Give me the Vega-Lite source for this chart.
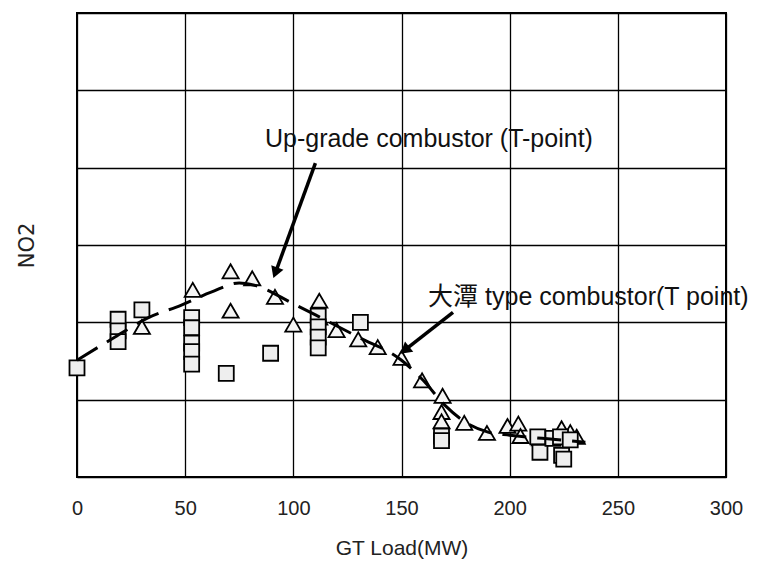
{
  "$schema": "https://vega.github.io/schema/vega-lite/v6.json",
  "width": 649,
  "height": 464,
  "autosize": {"type": "none"},
  "padding": {"left": 77, "top": 13, "right": 31, "bottom": 88},
  "background": "white",
  "config": {
    "view": {"stroke": "#000", "strokeWidth": 2},
    "font": "Liberation Sans"
  },
  "datasets": {
    "points": [
      {"load": 0, "no2": 1.41, "type": "Square"},
      {"load": 19, "no2": 2.04, "type": "Square"},
      {"load": 19, "no2": 1.89, "type": "Square"},
      {"load": 19, "no2": 1.75, "type": "Square"},
      {"load": 30, "no2": 2.16, "type": "Square"},
      {"load": 53, "no2": 2.06, "type": "Square"},
      {"load": 53, "no2": 1.93, "type": "Square"},
      {"load": 53, "no2": 1.73, "type": "Square"},
      {"load": 53, "no2": 1.62, "type": "Square"},
      {"load": 53, "no2": 1.46, "type": "Square"},
      {"load": 69, "no2": 1.34, "type": "Square"},
      {"load": 89.5, "no2": 1.6, "type": "Square"},
      {"load": 111.5, "no2": 2.08, "type": "Square"},
      {"load": 111.5, "no2": 1.94, "type": "Square"},
      {"load": 111.5, "no2": 1.81, "type": "Square"},
      {"load": 111.5, "no2": 1.67, "type": "Square"},
      {"load": 131, "no2": 2.0, "type": "Square"},
      {"load": 168.5, "no2": 0.53, "type": "Square"},
      {"load": 168.5, "no2": 0.47, "type": "Square"},
      {"load": 213, "no2": 0.52, "type": "Square"},
      {"load": 214, "no2": 0.32, "type": "Square"},
      {"load": 220, "no2": 0.5, "type": "Square"},
      {"load": 223.5, "no2": 0.52, "type": "Square"},
      {"load": 224, "no2": 0.28, "type": "Square"},
      {"load": 225, "no2": 0.23, "type": "Square"},
      {"load": 228, "no2": 0.48, "type": "Square"},
      {"load": 30, "no2": 1.94, "type": "Triangle"},
      {"load": 53.5, "no2": 2.42, "type": "Triangle"},
      {"load": 71, "no2": 2.66, "type": "Triangle"},
      {"load": 81, "no2": 2.57, "type": "Triangle"},
      {"load": 91.5, "no2": 2.33, "type": "Triangle"},
      {"load": 71, "no2": 2.15, "type": "Triangle"},
      {"load": 100, "no2": 1.97, "type": "Triangle"},
      {"load": 112, "no2": 2.28, "type": "Triangle"},
      {"load": 112, "no2": 2.06, "type": "Triangle"},
      {"load": 120, "no2": 1.9, "type": "Triangle"},
      {"load": 130, "no2": 1.78, "type": "Triangle"},
      {"load": 139, "no2": 1.68, "type": "Triangle"},
      {"load": 150, "no2": 1.54, "type": "Triangle"},
      {"load": 159.5, "no2": 1.25, "type": "Triangle"},
      {"load": 169, "no2": 1.05, "type": "Triangle"},
      {"load": 168.5, "no2": 0.84, "type": "Triangle"},
      {"load": 168.5, "no2": 0.72, "type": "Triangle"},
      {"load": 179, "no2": 0.7, "type": "Triangle"},
      {"load": 189.5, "no2": 0.57, "type": "Triangle"},
      {"load": 199, "no2": 0.66, "type": "Triangle"},
      {"load": 204, "no2": 0.69, "type": "Triangle"},
      {"load": 205, "no2": 0.53, "type": "Triangle"},
      {"load": 214, "no2": 0.5, "type": "Triangle"},
      {"load": 224, "no2": 0.63, "type": "Triangle"},
      {"load": 228, "no2": 0.58, "type": "Triangle"},
      {"load": 231, "no2": 0.52, "type": "Triangle"}
    ],
    "trend": [
      {"load": 0, "no2": 1.51},
      {"load": 17.6, "no2": 1.81},
      {"load": 33, "no2": 2.06},
      {"load": 48, "no2": 2.22},
      {"load": 62, "no2": 2.39},
      {"load": 75, "no2": 2.51},
      {"load": 82, "no2": 2.48},
      {"load": 100, "no2": 2.24},
      {"load": 112, "no2": 2.07},
      {"load": 130, "no2": 1.81},
      {"load": 150, "no2": 1.51},
      {"load": 160, "no2": 1.25},
      {"load": 170, "no2": 0.93},
      {"load": 180, "no2": 0.7},
      {"load": 190, "no2": 0.58},
      {"load": 200, "no2": 0.54},
      {"load": 215, "no2": 0.5},
      {"load": 235, "no2": 0.45}
    ]
  },
  "layer": [
    {
      "data": {"name": "points"},
      "transform": [{"filter": "datum.type == 'Triangle'"}],
      "mark": {"type": "point", "shape": "triangle-up", "size": 260, "filled": true, "fill": "#f4f4f4", "stroke": "#000", "strokeWidth": 1.8, "opacity": 1},
      "encoding": {
        "x": {"field": "load", "type": "quantitative", "scale": {"domain": [0, 300], "nice": false, "zero": false},
          "axis": {"values": [0, 50, 100, 150, 200, 250, 300], "title": "GT Load(MW)", "grid": true, "gridColor": "#000", "gridWidth": 1.3, "gridOpacity": 1, "ticks": false, "domain": false,
            "labelFontSize": 20, "labelFont": "Liberation Sans", "labelColor": "#222", "labelPadding": 21, "labelFlush": false,
            "titleFontSize": 21, "titleFont": "Liberation Sans", "titleFontWeight": "normal", "titleColor": "#222", "titlePadding": 19}},
        "y": {"field": "no2", "type": "quantitative", "scale": {"domain": [0, 6], "nice": false, "zero": false},
          "axis": {"values": [0, 1, 2, 3, 4, 5, 6], "title": "NO2", "labels": false, "grid": true, "gridColor": "#000", "gridWidth": 1.3, "gridOpacity": 1, "ticks": false, "domain": false,
            "titleFontSize": 21, "titleFont": "DejaVu Sans", "titleFontWeight": "normal", "titleColor": "#222", "titlePadding": 40}}
      }
    },
    {
      "data": {"name": "points"},
      "transform": [{"filter": "datum.type == 'Square'"}],
      "mark": {"type": "point", "shape": "square", "size": 225, "filled": true, "fill": "#eeeeee", "stroke": "#000", "strokeWidth": 1.8, "opacity": 1},
      "encoding": {
        "x": {"field": "load", "type": "quantitative"},
        "y": {"field": "no2", "type": "quantitative"}
      }
    },
    {
      "data": {"name": "trend"},
      "mark": {"type": "line", "interpolate": "monotone", "color": "#000", "strokeWidth": 3, "strokeDash": [24, 11]},
      "encoding": {
        "x": {"field": "load", "type": "quantitative"},
        "y": {"field": "no2", "type": "quantitative"}
      }
    },
    {
      "data": {"values": [
        {"x": 110.2, "y": 4.06, "x2": 91.7, "y2": 2.64},
        {"x": 173.8, "y": 2.13, "x2": 151.5, "y2": 1.64}
      ]},
      "mark": {"type": "rule", "color": "#000", "strokeWidth": 3.5},
      "encoding": {
        "x": {"field": "x", "type": "quantitative"},
        "y": {"field": "y", "type": "quantitative"},
        "x2": {"field": "x2"},
        "y2": {"field": "y2"}
      }
    },
    {
      "data": {"values": [{"x": 91.7, "y": 2.64}]},
      "mark": {"type": "point", "shape": "triangle-up", "size": 170, "filled": true, "color": "#000", "opacity": 1, "angle": 200.7},
      "encoding": {
        "x": {"field": "x", "type": "quantitative"},
        "y": {"field": "y", "type": "quantitative"}
      }
    },
    {
      "data": {"values": [{"x": 151.5, "y": 1.64}]},
      "mark": {"type": "point", "shape": "triangle-up", "size": 170, "filled": true, "color": "#000", "opacity": 1, "angle": 230.9},
      "encoding": {
        "x": {"field": "x", "type": "quantitative"},
        "y": {"field": "y", "type": "quantitative"}
      }
    },
    {
      "data": {"values": [
        {"x": 86.9, "y": 4.27, "label": "Up-grade combustor (T-point)"},
        {"x": 162.3, "y": 2.22, "label": "大潭 type combustor(T point)"}
      ]},
      "mark": {"type": "text", "align": "left", "baseline": "alphabetic", "fontSize": 25, "font": "Liberation Sans, Noto Sans CJK TC", "color": "#111"},
      "encoding": {
        "x": {"field": "x", "type": "quantitative"},
        "y": {"field": "y", "type": "quantitative"},
        "text": {"field": "label"}
      }
    }
  ]
}
